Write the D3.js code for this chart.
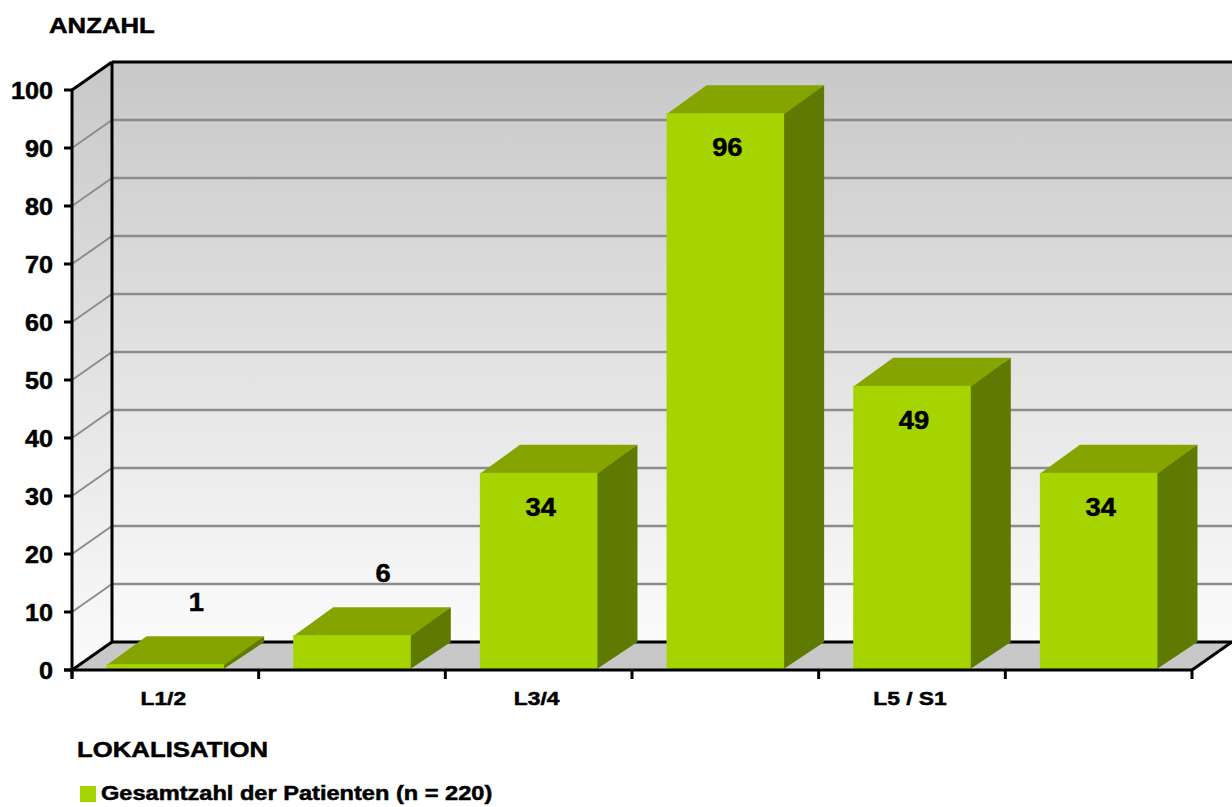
<!DOCTYPE html>
<html>
<head>
<meta charset="utf-8">
<script src="https://cdn.jsdelivr.net/npm/d3@7"></script>
<style>
  body { margin: 0; background: #fff; }
  text { font-family: "Liberation Sans", Arial, sans-serif; font-weight: bold; fill: #000; stroke: #000; stroke-width: 0.5px; }
</style>
</head>
<body>
<div id="container"></div>
<script>
let w = 1232;
let h = 807;

// data
const categories = [0, 1, 2, 3, 4, 5];
const tickLabels = ["L1/2", "", "L3/4", "", "L5 / S1", ""];
const values = [1, 6, 34, 96, 49, 34];
const yTicks = [0, 10, 20, 30, 40, 50, 60, 70, 80, 90, 100];
const seriesName = "Gesamtzahl der Patienten (n = 220)";

// depth of the 3d box
const dx = 40;
const dy = -28;

let viz = d3.select("#container")
  .append("svg")
    .attr("width", w)
    .attr("height", h)
    .style("background-color", "white")
;

let x = d3.scaleBand().domain(categories).range([72, 1192])
  .paddingInner(0.37).paddingOuter(0.185);
let y = d3.scaleLinear().domain([0, 100]).range([670, 90]);

let x0 = x.range()[0], x1 = x.range()[1];
let y0 = y(0), yTop = y(100);

// wall gradient
let defs = viz.append("defs");
let grad = defs.append("linearGradient").attr("id", "wallGrad")
  .attr("x1", 0).attr("y1", 0).attr("x2", 0).attr("y2", 1);
grad.append("stop").attr("offset", "0%").attr("stop-color", "#c8c8c8");
grad.append("stop").attr("offset", "100%").attr("stop-color", "#fbfbfb");

function pts(arr) { return arr.map(p => p.join(",")).join(" "); }

// back wall
viz.append("rect")
  .attr("x", x0 + dx).attr("y", yTop + dy)
  .attr("width", w - (x0 + dx)).attr("height", y0 - yTop)
  .attr("fill", "url(#wallGrad)");
// left wall
viz.append("polygon")
  .attr("points", pts([[x0, yTop], [x0 + dx, yTop + dy], [x0 + dx, y0 + dy], [x0, y0]]))
  .attr("fill", "url(#wallGrad)");
// floor
viz.append("polygon")
  .attr("points", pts([[x0, y0], [x0 + dx, y0 + dy], [x1 + dx, y0 + dy], [x1, y0]]))
  .attr("fill", "#c8c8c8");

// gridlines
let grid = viz.append("g");
grid.selectAll(".gback").data(yTicks.filter(d => d > 0 && d < 100)).enter()
  .append("line")
    .attr("x1", x0 + dx).attr("x2", w)
    .attr("y1", d => y(d) + dy).attr("y2", d => y(d) + dy)
    .attr("stroke", "#8c8c8c").attr("stroke-width", 2.5);
grid.selectAll(".gside").data(yTicks.filter(d => d > 0 && d < 100)).enter()
  .append("line")
    .attr("x1", x0).attr("x2", x0 + dx)
    .attr("y1", d => y(d)).attr("y2", d => y(d) + dy)
    .attr("stroke", "#8c8c8c").attr("stroke-width", 2);

// wall outlines
let frame = viz.append("g").attr("stroke", "#000").attr("stroke-width", 3).attr("fill", "none");
frame.append("line").attr("x1", x0 + dx).attr("x2", w).attr("y1", yTop + dy).attr("y2", yTop + dy);
frame.append("line").attr("x1", x0 + dx).attr("x2", x0 + dx).attr("y1", yTop + dy).attr("y2", y0 + dy);
frame.append("line").attr("x1", x0).attr("x2", x0 + dx).attr("y1", yTop).attr("y2", yTop + dy);
frame.append("line").attr("x1", x0 + dx).attr("x2", x1 + dx).attr("y1", y0 + dy).attr("y2", y0 + dy);

// bars
let bw = x.bandwidth();
let bars = viz.selectAll(".bar").data(values).enter()
  .append("g").classed("bar", true);

bars.append("polygon") // side, starts a bit under the front face so no seam shows
  .attr("points", (d, i) => {
    let b = x(i) + bw, t = y(d);
    return pts([[b - 2, t], [b + dx, t + dy], [b + dx, y0 + dy], [b - 2, y0]]);
  })
  .attr("fill", "#5f7a00");
bars.append("polygon") // top
  .attr("points", (d, i) => {
    let a = x(i), t = y(d);
    return pts([[a, t + 1], [a + dx, t + dy], [a + bw + dx, t + dy], [a + bw, t + 1]]);
  })
  .attr("fill", "#86a400");
bars.append("rect") // front
  .attr("x", (d, i) => x(i)).attr("y", d => y(d))
  .attr("width", bw).attr("height", d => y0 - y(d))
  .attr("fill", "#a6d400");

// front axis lines
frame = viz.append("g").attr("stroke", "#000").attr("stroke-width", 3).attr("fill", "none");
frame.append("line").attr("x1", x0).attr("x2", x0).attr("y1", yTop).attr("y2", y0 + 8);
frame.append("line").attr("x1", x0).attr("x2", x0 + dx).attr("y1", y0).attr("y2", y0 + dy);
frame.append("line").attr("x1", x0 - 8).attr("x2", x1).attr("y1", y0).attr("y2", y0);
frame.append("line").attr("x1", x1).attr("x2", x1 + dx).attr("y1", y0).attr("y2", y0 + dy);

// y ticks
frame.selectAll(".yt").data(yTicks).enter()
  .append("line")
    .attr("x1", x0 - 8).attr("x2", x0)
    .attr("y1", d => y(d)).attr("y2", d => y(d));
// x ticks at band borders
let xTickPos = categories.map(c => x(c) - x.step() * x.paddingOuter()).concat([x1]);
frame.selectAll(".xt").data(xTickPos).enter()
  .append("line")
    .attr("x1", d => d).attr("x2", d => d)
    .attr("y1", y0).attr("y2", y0 + 9);

// text helper, chart text looks a bit stretched horizontally
function label(px, py, str, size, anchor, sx) {
  return viz.append("text")
    .attr("transform", "translate(" + px + "," + py + ") scale(" + (sx || 1.1) + ",1)")
    .attr("text-anchor", anchor || "start")
    .style("font-size", size + "px")
    .text(str);
}

yTicks.forEach(t => label(53, y(t) + 8.5, t, 24, "end", 1.05));

tickLabels.forEach((t, i) => {
  if (t) label(x(i) + bw / 2 - 2, 705, t, 19, "middle", 1.2);
});

// value labels
values.forEach((v, i) => {
  let cx = x(i) + bw / 2;
  if (v < 10) {
    label(cx + 31, y(v) - 53, v, 26, "middle", 1.05);
  } else {
    label(cx + 2, y(v) + 43, v, 26, "middle", 1.05);
  }
});

label(49, 33, "ANZAHL", 23, "start", 1.12);
label(77, 757, "LOKALISATION", 23, "start", 1.12);

viz.append("rect").attr("x", 80).attr("y", 786).attr("width", 16).attr("height", 16).attr("fill", "#a6d400");
label(101, 800, seriesName, 20, "start", 1.18);
</script>
</body>
</html>
